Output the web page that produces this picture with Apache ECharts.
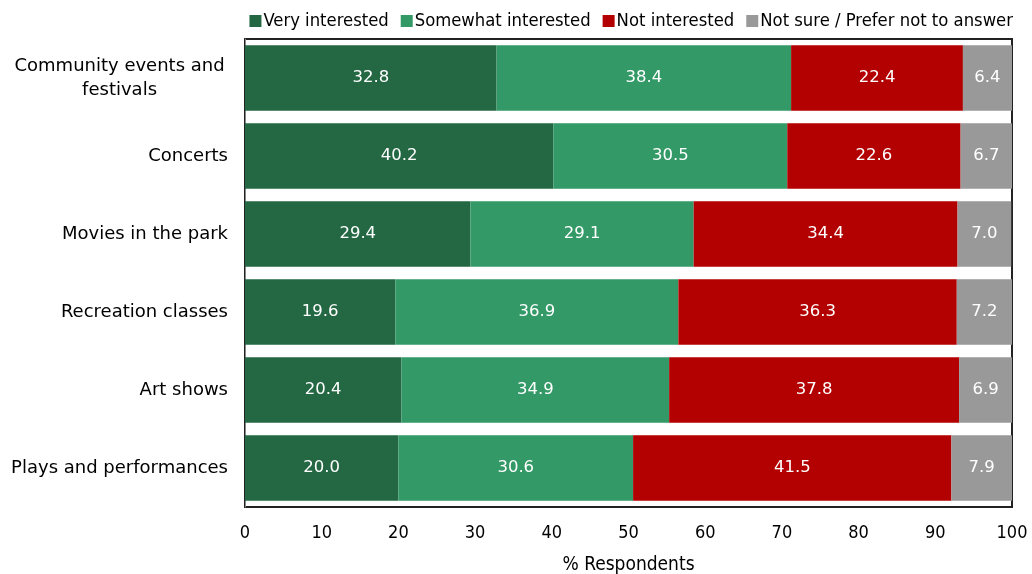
<!DOCTYPE html>
<html><head><meta charset="utf-8">
<script src="https://cdn.jsdelivr.net/npm/echarts@6/dist/echarts.min.js"></script>
<style>html,body{margin:0;padding:0;background:#fff}#c{width:1032px;height:574px}</style>
</head><body><div id="c"></div>
<script>
const categories = ["Community events and\nfestivals","Concerts","Movies in the park","Recreation classes","Art shows","Plays and performances"];
const seriesNames = ["Very interested","Somewhat interested","Not interested","Not sure / Prefer not to answer"];
const veryInterested = [32.8,40.2,29.4,19.6,20.4,20.0];
const somewhatInterested = [38.4,30.5,29.1,36.9,34.9,30.6];
const notInterested = [22.4,22.6,34.4,36.3,37.8,41.5];
const notSure = [6.4,6.7,7.0,7.2,6.9,7.9];
const colors = ["#236843","#339966","#b30000","#999999"];
const xTicks = [0,10,20,30,40,50,60,70,80,90,100];

const font = "DejaVu Sans";
const condensed = "DejaVu Sans Condensed";
const catFontSize = 18;
const data = [veryInterested, somewhatInterested, notInterested, notSure];

const ctx = document.createElement('canvas').getContext('2d');
ctx.font = catFontSize + 'px "' + font + '"';
let maxW = 0;
categories.forEach(c => c.split('\n').forEach(l => { maxW = Math.max(maxW, ctx.measureText(l).width); }));

const chart = echarts.init(document.getElementById('c'), null, {renderer:'canvas'});
chart.setOption({
  animation:false,
  color: colors,
  legend:{
    top: 7, right: 14, itemWidth: 12, itemHeight: 12, itemGap: 12,
    icon:'rect',
    textStyle:{fontFamily:condensed, fontSize:18.3, color:'#000', padding:[0,0,0,-3]},
    data: seriesNames
  },
  grid:{left:245, right:20, top:39, bottom:67, show:true, borderColor:'#222', borderWidth:2,
    containLabel:false, outerBoundsMode:'none'},
  xAxis:{
    type:'value', min:0, max:100, interval:10,
    name:'% Respondents', nameLocation:'middle', nameGap:49,
    nameTextStyle:{fontFamily:condensed, fontSize:19, color:'#000'},
    axisLabel:{fontFamily:condensed, fontSize:18, color:'#000', margin:17,
      formatter: v => xTicks.includes(v) ? String(v) : ''},
    splitLine:{show:false}, axisLine:{show:false}, axisTick:{show:false}
  },
  yAxis:{
    type:'category', data:categories, inverse:true,
    axisLabel:{fontFamily:font, fontSize:catFontSize, color:'#000', margin:17, align:'right',
      formatter: v => {
        const lines = v.split('\n');
        if (lines.length === 1) return v;
        return lines.map(l => '{c|' + l + '}').join('\n');
      },
      rich:{c:{fontFamily:font, fontSize:catFontSize, color:'#000', align:'center', width:maxW, lineHeight:24}}
    },
    axisLine:{show:true, lineStyle:{color:'#888', width:1}}, axisTick:{show:false}
  },
  series: data.map((d,i)=>({
    name: seriesNames[i], type:'bar', stack:'total', data:d,
    barCategoryGap:'16%',
    itemStyle:{color:colors[i]},
    label:{show:true, position:'inside', color:'#fff', fontFamily:font, fontSize:16.5,
      formatter: p => p.value.toFixed(1)}
  }))
});
</script></body></html>
